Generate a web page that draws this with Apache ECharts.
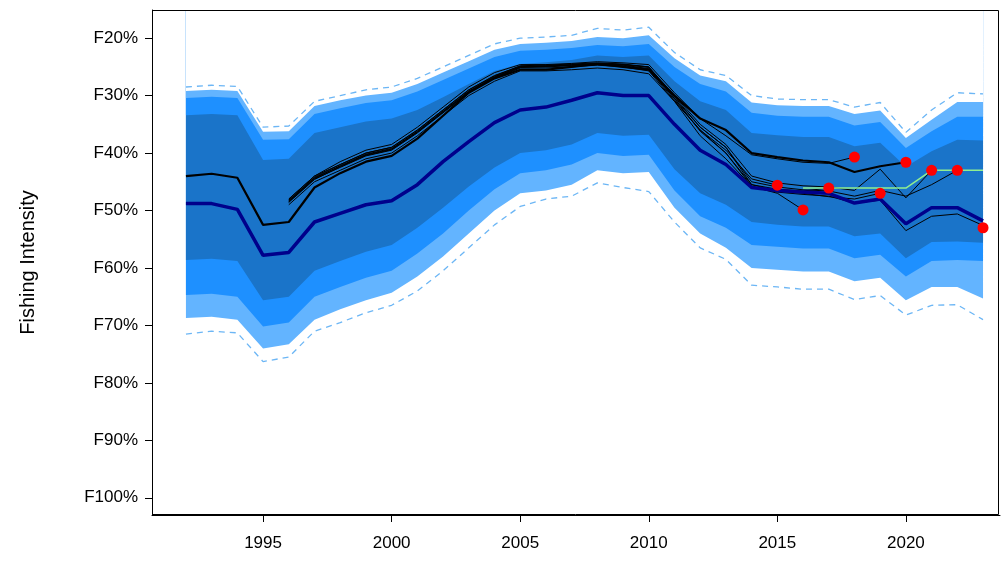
<!DOCTYPE html>
<html><head><meta charset="utf-8">
<script src="https://cdn.jsdelivr.net/npm/echarts@6/dist/echarts.min.js"></script>
<style>html,body{margin:0;padding:0;background:#fff}#c{width:1003px;height:571px}</style>
</head><body><div id="c"></div>
<script>
const years = [1992,1993,1994,1995,1996,1997,1998,1999,2000,2001,2002,2003,2004,2005,2006,2007,2008,2009,2010,2011,2012,2013,2014,2015,2016,2017,2018,2019,2020,2021,2022,2023];
const dashTop = [28.5,28.2,28.4,35.5,35.3,31,30,29,28.5,27,25,23,21,20,19.8,19.5,18.3,18.6,18.1,22.5,25.5,26.5,30,30.6,30.7,30.7,32,31.2,36.4,32.5,29.5,29.7];
const lightTop = [29.2,29,29.2,36.3,36.2,31.8,30.8,30,29.5,28,26,24,22,21,20.8,20.5,19.8,20,19.5,23.5,26.5,27.5,31.2,31.7,31.8,31.8,33.2,32.6,37.4,34.2,31.1,31.1];
const midTop = [30.4,30.2,30.4,37.7,37.6,33.2,32.2,31.3,30.8,29.3,27.3,25.3,23.3,22.2,22,21.7,21.2,21.4,21,25,28,29.3,33,33.5,33.7,33.7,35.2,34.6,39.1,36.2,33.7,33.7];
const innerTop = [33.4,33.2,33.4,41.2,41,36.5,35.5,34.5,34,32.5,30.3,28,25.7,24.5,24.2,23.8,23,23.3,23,27.5,31,32.5,36.5,36.9,37.2,37.2,38.8,38.2,42.4,39.7,37.7,37.8];
const innerBot = [58.6,58.4,58.8,65.6,65,60.5,58.8,57.2,56,53,49.5,45.8,42.5,40,39.5,38.5,36.5,37,36.8,42.8,47,49,52,52.5,52.8,52.8,54.5,54,58.3,55.5,55.4,55.6];
const midBot = [64.7,64.5,65,70.2,69.5,65,63.3,61.7,60.5,57.5,54,50,46.3,43.5,43,42,40,40.5,40.3,46.5,51,53,56,56.3,56.6,56.6,58.3,57.7,61.5,58.8,58.6,58.8];
const lightBot = [68.7,68.5,69,74,73.3,69,67.2,65.6,64.3,61.5,58,54,50,47,46.5,45.5,43,43.5,43.3,49.5,54,56.5,60,60.3,60.6,60.6,62.3,61.7,65.6,63.3,63.3,65.3];
const dashBot = [71.5,71,71.3,76.3,75.5,71,69.5,67.8,66.5,64,60.5,56.5,52.5,49.3,48,47.5,45.2,46,46.7,52,56.5,58.5,63,63.3,63.7,63.7,65.5,64.8,68.2,66.5,66.4,69];
const median = [48.8,48.8,49.8,57.8,57.3,52,50.5,49,48.3,45.5,41.5,38,34.7,32.5,32,30.8,29.5,30,30,35,39.5,42,46,46.5,46.8,47,48.7,48,52.3,49.5,49.5,51.8];
const prevEst = [44,43.6,44.3,52.5,52,46,43.5,41.5,40.5,37.5,33.5,29.5,27,25.5,25.5,25,24.5,25,25.5,30,34,36,40,40.7,41.3,41.6,43.3,42.3,41.6];
// retrospective peels, all starting in 1996
const peel2015 = [49,45,43,41,40,37,33.5,30,27.5,25.7,25.7,25.5,25.2,25.5,26.2,31,36,39.5,44.5,45.6];
const peel2016 = [48.5,44.5,42.5,40.5,39.5,36.5,33,29.5,27,25.2,25.2,25,24.7,25,25.7,31,37,41,45.8,47,49.9];
const peel2017 = [48,44,42,40,39,36,32.5,29,26.5,24.9,24.8,24.6,24.4,24.6,25,30.5,36.2,40,45.5,46.3,46.6,46.1];
const peel2018 = [48,44,41.5,39.5,38.5,35.5,32,28.5,26,24.6,24.6,24.4,24.1,24.3,24.6,29.5,34,37,40.3,41,41.6,41.8,40.7];
const peel2019 = [48.3,44.3,42.3,40.3,39.3,36.3,32.8,29.3,26.8,25,24.9,24.7,24.5,24.7,25.3,30.5,35.5,39,45.5,46.6,47,47.6,48,47];
const peel2021 = [48.2,44.2,42,40,39,36,32.5,29,26.6,24.8,24.7,24.5,24.3,24.5,25,30,35,38.5,44,45.2,45.7,45.9,46.5,42.8,47.8,43];
const peel2022 = [48.4,44.4,42.2,40.2,39.2,36.2,32.7,29.2,26.7,25,24.9,24.7,24.4,24.6,25.1,30.2,35.5,39,45,45.9,46.4,46.6,47.5,46.5,47.5,45.5,43];
const peel2023 = [48.6,44.6,42.4,40.4,39.4,36.4,32.9,29.4,26.9,25.1,25,24.8,24.6,24.8,25.4,30.8,36,40,45.8,46.8,47.2,47.5,48.7,48.2,53.5,51,50.6,52.6];
const pointYears = [2015,2016,2017,2018,2019,2020,2021,2022,2023];
const pointVals = [45.6,49.9,46.1,40.7,47,41.6,43,43,53];
const refYears = [2016,2017,2018,2019,2020,2021,2022,2023];
const refVals = [46.1,46.1,46.1,46.1,46.1,43,43,43];
const yTicks = [20,30,40,50,60,70,80,90,100];
const xTicks = [1995,2000,2005,2010,2015,2020];

const C_LIGHT='#63b4ff', C_MID='#1e90ff', C_IN='#1a74c9';
const pairs = (xs, vs) => vs.map((v,i)=>[xs[i], v]);
const fill = (vals, color, z) => ({type:'line', data:pairs(years, vals), symbol:'none', lineStyle:{width:0},
  areaStyle:{color, opacity:1, origin:'start'}, z, silent:true});
const thin = (start, vals) => ({type:'line', data: vals.map((v,i)=>[start+i,v]), symbol:'none', lineStyle:{width:1, color:'#000'}, z:15, silent:true});

const series = [
  fill(lightBot, C_LIGHT, 1),
  fill(midBot, C_MID, 2),
  fill(innerBot, C_IN, 3),
  fill(innerTop, C_MID, 4),
  fill(midTop, C_LIGHT, 5),
  fill(lightTop, '#ffffff', 6),
  {type:'line', data:pairs(years, dashTop), symbol:'none', lineStyle:{width:1.3, color:'#6cb6f5', type:[6,5]}, z:10},
  {type:'line', data:pairs(years, dashBot), symbol:'none', lineStyle:{width:1.3, color:'#6cb6f5', type:[6,5]}, z:10},
  thin(1996, peel2015), thin(1996, peel2016), thin(1996, peel2017), thin(1996, peel2018),
  thin(1996, peel2019), thin(1996, peel2021), thin(1996, peel2022), thin(1996, peel2023),
  {type:'line', data:pairs(years, prevEst), symbol:'none', lineStyle:{width:2.2, color:'#000'}, z:16},
  {type:'line', data:pairs(years, median), symbol:'none', lineStyle:{width:3.5, color:'#00008b'}, z:17},
  {type:'line', data:pairs(refYears, refVals), symbol:'none', lineStyle:{width:1.5, color:'#90ee90'}, z:18},
  {type:'scatter', data:pairs(pointYears, pointVals), symbolSize:11, itemStyle:{color:'#ff0000', opacity:1}, z:19}
];

const chart = echarts.init(document.getElementById('c'));
chart.setOption({
  animation:false,
  grid:{left:152, right:3, top:10, bottom:56, show:false, containLabel:false},
  graphic:[{type:'rect', z:100, shape:{x:152.5, y:10.5, width:846, height:504}, style:{fill:null, stroke:'#000', lineWidth:1}}],
  xAxis:{type:'value', min:1990.68, max:2023.66, splitLine:{show:false},
    axisLine:{show:true, onZero:false, lineStyle:{color:'#000'}},
    axisTick:{show:true, length:7, customValues:xTicks, lineStyle:{color:'#000'}},
    axisLabel:{customValues:xTicks, formatter:v=>String(v), color:'#000', fontSize:17, fontFamily:'Liberation Sans', margin:20}},
  yAxis:{type:'value', inverse:true, min:15.1, max:103, splitLine:{show:false},
    name:'Fishing Intensity', nameLocation:'middle', nameGap:114, nameRotate:90,
    nameTextStyle:{color:'#000', fontSize:20, fontFamily:'Liberation Sans'},
    axisLine:{show:true, lineStyle:{color:'#000'}},
    axisTick:{show:true, length:7, customValues:yTicks, lineStyle:{color:'#000'}},
    axisLabel:{customValues:yTicks, formatter:v=>'F'+v+'%', color:'#000', fontSize:17, fontFamily:'Liberation Sans', margin:14}},
  series
});
</script></body></html>
